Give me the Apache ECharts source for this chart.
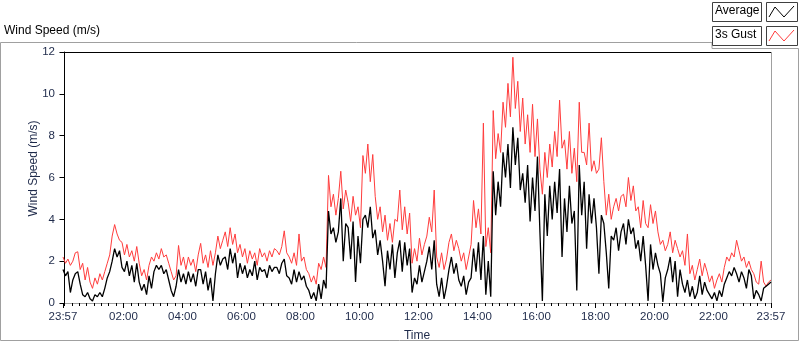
<!DOCTYPE html>
<html>
<head>
<meta charset="utf-8">
<script src="https://cdn.jsdelivr.net/npm/echarts@6/dist/echarts.min.js"></script>
<style>
  html, body { margin: 0; padding: 0; background: #fff; }
  #container { width: 800px; height: 342px; }
</style>
</head>
<body>
<div id="container"></div>
<script>
// samples every 5 minutes, starting 23:57 (minute -3 of the day)
var startMin = -3;
var stepMin = 5;

// 3s gust (m/s)
var gust = [
  2.2, 1.9, 2.1, 1.8, 2.0, 2.4,
  2.45, 1.6, 1.9,
  1.1, 1.7, 1.0, 0.7, 1.2, 0.9,
  1.4, 1.1, 1.5,
  1.9, 2.3, 3.2,
  3.75, 3.3, 3.0, 2.9,
  2.3, 2.8, 2.2, 2.5, 2.0, 2.7,
  1.9, 1.3, 1.6, 1.1,
  1.8, 2.2, 2.0, 2.4, 2.1,
  2.6, 2.2, 2.3, 1.9,
  1.5, 1.1, 1.3,
  2.75, 1.8, 2.2,
  1.6, 2.2, 1.8, 2.1, 1.5, 2.3,
  2.85, 1.9, 2.3, 1.7, 2.5, 1.8,
  2.4, 3.2, 2.6, 3.0,
  3.4, 2.7, 3.6, 2.8, 3.3, 2.4,
  2.8, 2.2, 2.6, 1.9, 2.5, 2.1, 2.4, 1.8, 2.6, 2.2,
  2.4, 2.0, 2.5, 2.2, 2.6,
  2.5, 2.3, 2.7, 3.45, 2.4,
  2.2, 1.9, 2.4, 1.8,
  3.3, 2.0, 2.2, 1.6,
  1.4, 1.0, 1.3, 0.9,
  1.9, 1.6, 2.2, 1.7,
  6.1, 4.6, 5.2, 4.2,
  5.0, 6.3, 4.5, 5.4,
  4.8, 3.9, 5.1, 4.2, 4.6, 3.6, 7.05,
  6.2, 7.6, 5.8, 7.1,
  5.1, 4.0, 4.6,
  3.4, 4.2, 3.0, 3.8, 2.9, 4.0,
  3.9, 5.4, 3.5, 4.6, 3.3, 4.3,
  1.9, 2.6, 2.0, 3.1, 2.3, 2.8,
  3.2, 4.1, 3.4, 5.4,
  2.2, 1.7, 2.4, 1.6, 2.1,
  2.9, 3.3, 2.5, 3.0, 2.6,
  2.0, 2.4, 1.6, 2.2,
  2.8, 4.9, 3.6,
  4.5, 3.3, 8.6,
  2.7, 3.6, 2.4,
  9.2, 6.9, 8.1, 7.2, 9.6,
  8.4, 10.5, 8.9, 11.75,
  9.3, 10.6, 8.2, 9.8,
  7.6, 9.0, 7.2, 9.5, 7.0, 8.8,
  6.4, 5.2,
  7.2, 6.0, 7.6, 6.5,
  8.2, 7.0, 9.7, 7.4,
  7.8, 6.4, 8.2,
  6.2, 7.4, 5.8,
  9.6, 7.2,
  7.2, 6.6, 8.6, 6.3,
  6.8, 6.2, 6.4, 7.9,
  5.8, 4.2, 5.2, 4.0,
  4.6, 5.0, 4.4, 5.1,
  5.2, 4.6, 6.0, 4.9, 5.6, 4.4,
  4.6, 3.6, 4.9, 3.8,
  3.6, 4.7, 3.8, 4.4,
  3.4, 2.8, 3.0, 2.5,
  2.8, 3.4, 2.4, 3.0,
  2.6, 2.2, 2.5, 1.8,
  3.3, 1.4, 1.8, 1.1,
  1.6, 2.1, 1.3, 1.9, 1.5,
  1.0, 1.3, 0.7, 1.1,
  1.4, 1.0, 1.7,
  2.2, 2.0, 2.4, 2.2, 3.0,
  2.5, 2.0, 2.2,
  1.7, 2.0, 1.6,
  1.4, 1.0, 0.9,
  2.0, 1.0, 0.8, 1.0, 1.1
];

// average (m/s)
var average = [
  1.6, 1.3, 1.5, 0.5, 1.1, 1.4,
  1.5, 0.9, 0.4,
  0.3, 0.5, 0.2, 0.1, 0.4, 0.3,
  0.5, 0.3, 0.7,
  1.2, 1.5, 2.0,
  2.6, 2.2, 2.5, 1.7,
  1.5, 2.0, 1.3, 1.8, 1.0, 1.9,
  1.0, 0.6, 0.9, 0.4,
  1.3, 0.7, 1.5, 1.8, 1.6,
  1.8, 1.4, 1.6, 1.1,
  0.6, 0.3, 0.8,
  1.6, 1.0, 1.4,
  0.9, 1.5, 1.0, 1.4, 0.8, 1.6,
  1.6, 0.9, 1.5, 0.6, 1.2, 0.1,
  1.4, 2.3, 1.8, 2.1,
  2.2, 1.6, 2.6, 1.9, 2.4, 1.2,
  1.9, 1.4, 1.8, 1.2, 1.6, 1.3, 2.0, 1.1, 1.7, 1.5,
  1.6, 1.2, 1.8, 1.5, 1.7,
  1.7, 1.4, 1.9, 2.1, 1.3,
  1.2, 0.9, 1.6, 1.0,
  1.5, 1.1, 1.3, 0.8,
  0.6, 0.2, 0.5, 0.1,
  0.9, 0.2, 1.1, 0.7,
  4.4, 3.3, 3.6, 2.9,
  3.4, 5.0, 2.0, 3.8,
  3.6, 2.1, 3.9, 1.0, 3.2, 1.9, 4.0,
  4.2, 3.6, 4.6, 3.1,
  3.5, 2.3, 3.0,
  2.0, 0.8, 2.5, 1.6, 2.8, 1.2,
  2.4, 3.0, 1.5, 2.9, 1.8, 2.6,
  0.5, 1.2, 0.9, 1.8, 1.0, 1.5,
  2.0, 2.7, 1.6, 3.0,
  0.9, 0.3, 1.2, 0.2, 0.8,
  1.6, 2.2, 1.4, 1.9, 1.1,
  0.8, 1.3, 0.4, 1.0,
  1.2, 2.6, 1.5,
  2.9, 1.1, 3.2,
  0.4, 2.0, 0.3,
  6.3, 4.2, 5.8, 4.6, 7.2,
  6.0, 7.6, 5.5, 8.4,
  6.6, 7.9, 5.4, 6.2,
  4.8, 6.6, 3.9, 6.0, 4.4, 7.0,
  3.4, 0.1,
  5.2, 3.2, 5.6, 4.0,
  5.8, 4.3, 6.4, 2.2,
  5.0, 3.4, 5.6,
  3.8, 4.4, 0.6,
  6.6, 4.2,
  5.8, 2.6, 5.2, 3.8,
  5.0, 3.6, 1.4, 4.2,
  3.8, 2.4, 0.7, 3.2,
  3.0, 3.6, 2.5, 3.4,
  3.8, 2.8, 4.0, 3.3, 3.6, 2.6,
  3.0, 2.0, 3.2, 1.8,
  0.1, 2.8, 1.6, 2.4,
  1.8, 1.4, 0.05, 1.2,
  1.6, 2.2, 1.0, 2.0,
  0.3, 1.6, 0.9, 0.5,
  1.1, 0.3, 0.8, 0.2,
  0.5, 1.3, 0.4, 1.0, 0.6,
  0.4, 0.2, 0.5, 0.1,
  0.6, 0.3, 0.9,
  1.2, 1.5, 1.3, 1.7, 1.4,
  1.0, 1.5, 1.2,
  0.7, 1.6, 1.3,
  0.2, 0.6, 0.4,
  0.1, 0.7, 0.8, 0.9, 1.0
];

// labelled ticks (minutes of day) and the 15 minute small ticks
var majorTicks = [-3, 120, 240, 360, 480, 600, 720, 840, 960, 1080, 1200, 1320, 1437];
var minorTicks = [];
for (var m = 0; m < 1440; m += 15) {
  if (m % 120 !== 0 || m === 0) minorTicks.push(m);
}
minorTicks.push(1437);

var yTicks = { min: 0, max: 12, interval: 2 };

var toPairs = function (arr) {
  return arr.map(function (v, i) { return [startMin + i * stepMin, v]; });
};

var fmtTime = function (v) {
  var t = (v + 1440) % 1440;
  var h = Math.floor(t / 60), mm = t % 60;
  return (h < 10 ? '0' : '') + h + ':' + (mm < 10 ? '0' : '') + mm;
};

var font = 'Liberation Sans';
var labelColor = '#1e2a4a';

var dom = document.getElementById('container');
var myChart = echarts.init(dom, null, { renderer: 'canvas' });

var option = {
  animation: false,
  backgroundColor: '#fff',
  textStyle: { fontFamily: font },
  grid: { left: 63, right: 29, top: 52, bottom: 39, containLabel: false, outerBoundsMode: 'none' },
  xAxis: [{
    type: 'value',
    min: -3,
    max: 1437,
    name: 'Time',
    nameLocation: 'middle',
    nameGap: 27,
    nameMoveOverlap: false,
    nameTextStyle: { color: labelColor, fontSize: 12, fontFamily: font },
    axisLine: { show: true, onZero: false, lineStyle: { color: '#a0a0a0', width: 1 } },
    axisTick: { show: true, customValues: majorTicks, length: 5, lineStyle: { color: '#000' } },
    axisLabel: {
      show: true, customValues: majorTicks, color: labelColor, fontSize: 11.5, margin: 8,
      fontFamily: font, formatter: fmtTime
    },
    splitLine: { show: false }
  }, {
    type: 'value',
    min: -3,
    max: 1437,
    position: 'bottom',
    axisLine: { show: false },
    axisTick: { show: true, customValues: minorTicks, length: 3, lineStyle: { color: '#000' } },
    axisLabel: { show: false },
    splitLine: { show: false }
  }],
  yAxis: {
    type: 'value',
    min: yTicks.min,
    max: yTicks.max,
    interval: yTicks.interval,
    name: 'Wind Speed (m/s)',
    nameLocation: 'middle',
    nameRotate: 90,
    nameGap: 23,
    nameMoveOverlap: false,
    nameTextStyle: { color: labelColor, fontSize: 12, fontFamily: font, padding: [0, 0, 0, 18] },
    axisLine: { show: true, lineStyle: { color: '#000', width: 1 } },
    axisTick: { show: true, length: 5, lineStyle: { color: '#000' } },
    axisLabel: { color: labelColor, fontSize: 11.5, margin: 8, fontFamily: font },
    splitLine: { show: false }
  },
  series: [{
    name: '3s Gust',
    type: 'line',
    showSymbol: false,
    symbol: 'none',
    lineStyle: { color: '#ff3c3c', width: 1 },
    data: toPairs(gust),
    z: 2
  }, {
    name: 'Average',
    type: 'line',
    showSymbol: false,
    symbol: 'none',
    lineStyle: { color: '#000', width: 1.3 },
    data: toPairs(average),
    z: 3
  }],
  graphic: [
    // chart frame
    { type: 'polyline', shape: { points: [[712, 42.5], [0.5, 42.5], [0.5, 340.5], [798.5, 340.5], [798.5, 48.5], [712, 48.5], [712, 42.5]] },
      style: { stroke: '#a0a0a0', fill: null, lineWidth: 1 }, silent: true },
    // plot border top and right
    { type: 'line', shape: { x1: 62, y1: 52.5, x2: 772, y2: 52.5 }, style: { stroke: '#000', lineWidth: 1 } },
    { type: 'line', shape: { x1: 771.5, y1: 52, x2: 771.5, y2: 303 }, style: { stroke: '#a0a0a0', lineWidth: 1 } },
    // title
    { type: 'text', left: 4, top: 25, style: { text: 'Wind Speed (m/s)', font: '12px "Liberation Sans"', fill: '#000' } },
    // legend
    { type: 'rect', shape: { x: 712.5, y: 2.5, width: 49, height: 19 }, style: { fill: '#fff', stroke: '#404040', lineWidth: 1 } },
    { type: 'text', left: 715, top: 5, style: { text: 'Average', font: '12px "Liberation Sans"', fill: '#000' } },
    { type: 'rect', shape: { x: 766.5, y: 2.5, width: 31, height: 19 }, style: { fill: '#fff', stroke: '#404040', lineWidth: 1 } },
    { type: 'polyline', shape: { points: [[769, 17], [775, 7], [784, 17], [794, 6]] }, style: { stroke: '#000', fill: null, lineWidth: 1 } },
    { type: 'rect', shape: { x: 712.5, y: 26.5, width: 49, height: 19 }, style: { fill: '#fff', stroke: '#404040', lineWidth: 1 } },
    { type: 'text', left: 715, top: 29, style: { text: '3s Gust', font: '12px "Liberation Sans"', fill: '#000' } },
    { type: 'rect', shape: { x: 766.5, y: 26.5, width: 31, height: 19 }, style: { fill: '#fff', stroke: '#404040', lineWidth: 1 } },
    { type: 'polyline', shape: { points: [[769, 41], [775, 31], [784, 41], [794, 30]] }, style: { stroke: '#ff3c3c', fill: null, lineWidth: 1 } }
  ]
};

myChart.setOption(option, true);
window.onresize = myChart.resize;
</script>
</body>
</html>
